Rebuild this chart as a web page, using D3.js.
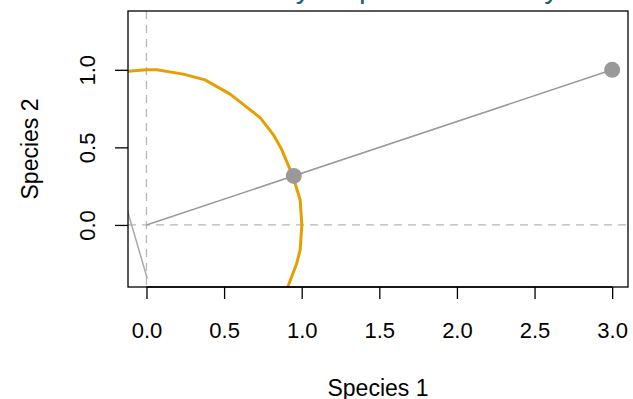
<!DOCTYPE html>
<html>
<head>
<meta charset="utf-8">
<script src="https://cdn.jsdelivr.net/npm/d3@7"></script>
<style>
  body { margin: 0; background: #fff; }
  svg { display: block; }
  svg text { font-family: "Liberation Sans", Arial, Helvetica, sans-serif; }
</style>
</head>
<body>
<div id="chart"></div>
<script>
// community vector (Species 1, Species 2) and its unit-length version
const community = [3, 1];
const unitPoint = [0.949, 0.316];
const points = [community, unitPoint];

// orange curve (approx. unit circle)
const arcX = [-0.13, 0.001, 0.066, 0.237, 0.377, 0.539, 0.732, 0.818, 0.872, 0.945, 0.990, 1.001, 0.990, 0.969, 0.915, 0.905];
const arcY = [0.990, 1.000, 1.000, 0.972, 0.935, 0.843, 0.692, 0.581, 0.484, 0.310, 0.161, 0.000, -0.161, -0.245, -0.387, -0.41];

// short grey line at the lower left
const sideLine = [[-0.13, 0.118], [0.005, -0.345]];

const xTicks = [0, 0.5, 1, 1.5, 2, 2.5, 3];
const yTicks = [0, 0.5, 1];

const W = 633, H = 399;
const margin = { top: 11, right: 5, bottom: 112, left: 128 };
const width = W - margin.left - margin.right;
const height = H - margin.top - margin.bottom;

const svg = d3.select('#chart').append('svg')
  .attr('width', W)
  .attr('height', H);

const x = d3.scaleLinear().domain([-0.119, 3.102]).range([0, width]);
const y = d3.scaleLinear().domain([-0.40, 1.379]).range([height, 0]);

// title, mostly above the visible area
svg.append('text')
  .attr('x', 159)
  .attr('y', -2)
  .style('font-size', '30px')
  .style('fill', '#1f6170')
  .text('Community as point in density');

const g = svg.append('g')
  .attr('transform', `translate(${margin.left},${margin.top})`);

g.append('clipPath').attr('id', 'clip')
  .append('rect').attr('width', width).attr('height', height);

const plot = g.append('g').attr('clip-path', 'url(#clip)');

// reference lines at 0
plot.append('line')
  .attr('x1', x(0)).attr('x2', x(0))
  .attr('y1', 0).attr('y2', height)
  .attr('stroke', '#b8b8b8').attr('stroke-width', 1.3)
  .attr('stroke-dasharray', '8,6');
plot.append('line')
  .attr('x1', 0).attr('x2', width)
  .attr('y1', y(0)).attr('y2', y(0))
  .attr('stroke', '#b8b8b8').attr('stroke-width', 1.3)
  .attr('stroke-dasharray', '8,6');

// vector from origin to the community
plot.append('line')
  .attr('x1', x(0)).attr('y1', y(0))
  .attr('x2', x(community[0])).attr('y2', y(community[1]))
  .attr('stroke', '#999999').attr('stroke-width', 1.5);

plot.append('path')
  .datum(sideLine)
  .attr('fill', 'none')
  .attr('stroke', '#aaaaaa').attr('stroke-width', 1.5)
  .attr('d', d3.line().x(d => x(d[0])).y(d => y(d[1])));

// unit circle curve
plot.append('path')
  .datum(arcX.map((v, i) => [v, arcY[i]]))
  .attr('fill', 'none')
  .attr('stroke', '#E69F00').attr('stroke-width', 3)
  .attr('stroke-linejoin', 'round')
  .attr('d', d3.line().x(d => x(d[0])).y(d => y(d[1])));

plot.selectAll('.pt')
  .data(points)
  .enter().append('circle')
  .attr('class', 'pt')
  .attr('cx', d => x(d[0]))
  .attr('cy', d => y(d[1]))
  .attr('r', 8)
  .attr('fill', '#999999');

// box
g.append('rect')
  .attr('width', width).attr('height', height)
  .attr('fill', 'none').attr('stroke', '#000').attr('stroke-width', 1.3);

// axes, R style
const xAxis = g.append('g')
  .attr('transform', `translate(0,${height})`)
  .call(d3.axisBottom(x).tickValues(xTicks).tickSize(12).tickPadding(23).tickFormat(d3.format('.1f')));
const yAxis = g.append('g')
  .call(d3.axisLeft(y).tickValues(yTicks).tickSize(13).tickPadding(10).tickFormat(d3.format('.1f')));

[xAxis, yAxis].forEach(a => {
  a.select('.domain').remove();
  a.selectAll('line').attr('stroke', '#000').attr('stroke-width', 1.3);
  a.selectAll('text').style('font-size', '22px').attr('fill', '#000')
    .style('font-family', '"Liberation Sans", Arial, sans-serif');
});
xAxis.append('line')
  .attr('x1', x(xTicks[0])).attr('x2', x(xTicks[xTicks.length - 1]))
  .attr('stroke', '#000').attr('stroke-width', 1.3);

yAxis.selectAll('text')
  .attr('transform', 'rotate(-90)')
  .attr('x', 0)
  .attr('y', -33.5)
  .attr('dy', 0)
  .attr('text-anchor', 'middle');

// axis titles
svg.append('text')
  .attr('x', margin.left + width / 2)
  .attr('y', 395.5)
  .attr('text-anchor', 'middle')
  .style('font-size', '23px')
  .text('Species 1');

svg.append('text')
  .attr('transform', `translate(38,${margin.top + height / 2}) rotate(-90)`)
  .attr('text-anchor', 'middle')
  .style('font-size', '23px')
  .text('Species 2');
</script>
</body>
</html>
